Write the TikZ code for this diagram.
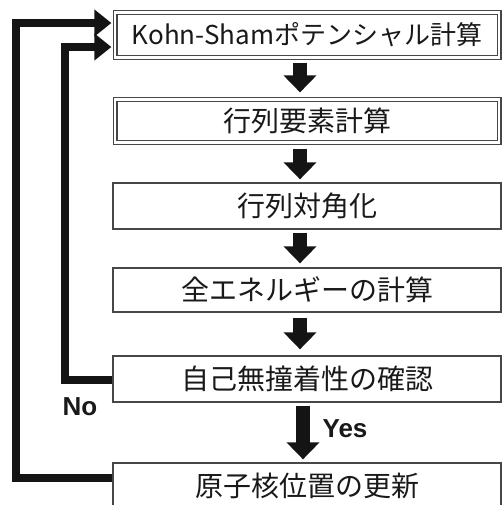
\documentclass[tikz,border=0pt]{standalone}
\usepackage{fontspec}
\newfontfamily\jpfont{Noto Sans CJK JP}
\newfontfamily\latfont{Liberation Sans}
\usetikzlibrary{arrows.meta}
\begin{document}
\begin{tikzpicture}[x=1pt,y=-1pt,
  box/.style={draw=black!72, line width=1.3pt, minimum width=388pt, inner sep=0pt,
    font=\jpfont\fontsize{28}{28}\selectfont, text=black!90},
  dbox/.style={box, double, double distance=2.6pt, line width=1.2pt, minimum width=384pt},
  darr/.style={line width=14pt, -{Triangle[width=32pt,length=17pt]}, black!92},
  fb/.style={line width=8pt, -{Triangle[width=26pt,length=17pt]}, black!92, shorten >=3pt},
  lab/.style={font=\latfont\bfseries\fontsize{26}{26}\selectfont, text=black!90, inner sep=0pt}]
\useasboundingbox (0,0) rectangle (502,505);
\node[dbox, minimum height=45pt] (b1) at (307,35) {\fontsize{26}{26}\selectfont Kohn-Shamポテンシャル計算};
\node[dbox, minimum height=43pt] (b2) at (307,121) {行列要素計算};
\node[box, minimum height=46pt] (b3) at (307,206) {行列対角化};
\node[box, minimum height=44pt] (b4) at (307,290) {全エネルギーの計算};
\node[box, minimum height=46pt] (b5) at (307,379) {自己無撞着性の確認};
\node[box, minimum height=46pt] (b6) at (307,486) {原子核位置の更新};
\draw[darr, shorten <=4.5pt, shorten >=6.5pt] ([xshift=-7pt]b1.south) -- ([xshift=-7pt]b2.north);
\draw[darr, shorten <=5.5pt, shorten >=3pt] ([xshift=-7pt]b2.south) -- ([xshift=-7pt]b3.north);
\draw[darr, shorten <=3pt, shorten >=4pt] ([xshift=-7pt]b3.south) -- ([xshift=-7pt]b4.north);
\draw[darr, shorten <=5pt, shorten >=6pt] ([xshift=-7pt]b4.south) -- ([xshift=-7pt]b5.north);
\draw[darr, shorten <=3pt, shorten >=3pt] ([xshift=-4pt]b5.south) -- ([xshift=-4pt]b6.north);
\draw[fb] ([yshift=8pt]b6.west) -- ++(-96,0) |- ([yshift=12pt]b1.west);
\draw[fb] ([yshift=-1pt]b5.west) -- ++(-47,0) |- ([yshift=-12pt]b1.west);
\node[lab] (no) at (80,407) {No};
\node[lab] (yes) at (345,429) {Yes};
\end{tikzpicture}
\end{document}
